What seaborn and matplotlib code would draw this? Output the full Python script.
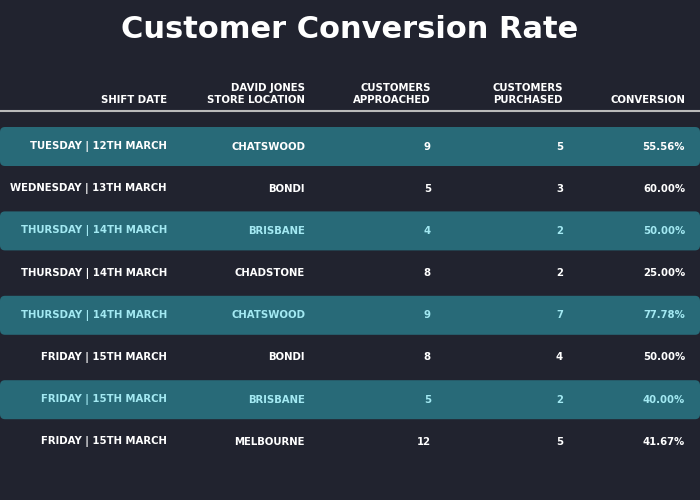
import matplotlib
matplotlib.use("Agg")
import matplotlib.pyplot as plt
from matplotlib.patches import FancyBboxPatch
import seaborn as sns
import pandas as pd

dates = ["TUESDAY | 12TH MARCH", "WEDNESDAY | 13TH MARCH", "THURSDAY | 14TH MARCH",
         "THURSDAY | 14TH MARCH", "THURSDAY | 14TH MARCH", "FRIDAY | 15TH MARCH",
         "FRIDAY | 15TH MARCH", "FRIDAY | 15TH MARCH"]
stores = ["CHATSWOOD", "BONDI", "BRISBANE", "CHADSTONE", "CHATSWOOD", "BONDI", "BRISBANE", "MELBOURNE"]
approached = [9, 5, 4, 8, 9, 8, 5, 12]
purchased = [5, 3, 2, 2, 7, 4, 2, 5]
conversion = ["55.56%", "60.00%", "50.00%", "25.00%", "77.78%", "50.00%", "40.00%", "41.67%"]
headers = ["SHIFT DATE", "DAVID JONES\nSTORE LOCATION", "CUSTOMERS\nAPPROACHED",
           "CUSTOMERS\nPURCHASED", "CONVERSION"]

df = pd.DataFrame({"date": dates, "store": stores, "appr": approached,
                   "purch": purchased, "conv": conversion})

BG = "#21232f"
TEAL = "#286a78"
CYAN = "#a3e9f2"
sns.set_theme(style="white", rc={"figure.facecolor": BG, "axes.facecolor": BG})
plt.rcParams["font.family"] = "DejaVu Sans"

fig = plt.figure(figsize=(7, 5), dpi=100)
ax = fig.add_axes([0, 0, 1, 1])
ax.set_xlim(0, 700)
ax.set_ylim(500, 0)
ax.axis("off")

fig.text(0.5, 1 - 29 / 500, "Customer Conversion Rate", ha="center", va="center",
         color="white", fontsize=22, fontweight="bold", family="DejaVu Sans")

col_x = [167, 305, 431, 563, 685]
for x, h in zip(col_x, headers):
    ax.text(x, 105, h, ha="right", va="bottom", color="white", fontsize=7.3,
            fontweight="bold", linespacing=1.25, family="DejaVu Sans")
ax.plot([0, 700], [111, 111], color="#bbbbbb", lw=1.5)

y0, dy = 146.5, 42.2
for i, row in df.iterrows():
    y = y0 + i * dy
    if i % 2 == 0:
        ax.add_patch(FancyBboxPatch((0, y - 19.5), 700, 39,
                                    boxstyle="round,pad=0,rounding_size=5",
                                    fc=TEAL, ec="none"))
    color = CYAN if i in (2, 4, 6) else "white"
    vals = [row["date"], row["store"], str(row["appr"]), str(row["purch"]), row["conv"]]
    for x, v in zip(col_x, vals):
        ax.text(x, y, v, ha="right", va="center", color=color, fontsize=7.3,
                fontweight="bold", family="DejaVu Sans")

fig.savefig("out.png", dpi=100, facecolor=BG)
